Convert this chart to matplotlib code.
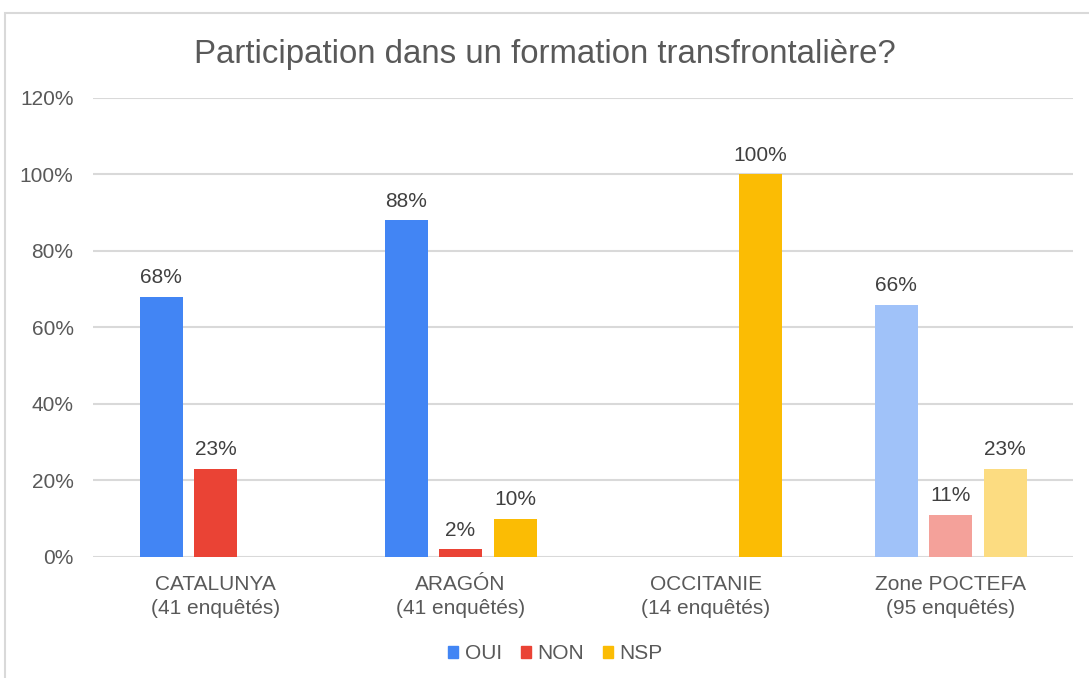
import matplotlib.pyplot as plt
import numpy as np
from matplotlib.patches import Rectangle

plt.rcParams['font.family'] = ['Liberation Sans', 'DejaVu Sans']

regions = ["CATALUNYA\n(41 enquêtés)", "ARAGÓN\n(41 enquêtés)",
           "OCCITANIE\n(14 enquêtés)", "Zone POCTEFA\n(95 enquêtés)"]
series = ["OUI", "NON", "NSP"]
oui = [68, 88, 0, 66]
non = [23, 2, 0, 11]
nsp = [0, 10, 100, 23]

colors = ["#4285F4", "#EA4335", "#FBBC04"]
# the POCTEFA total is drawn in lighter shades
light = ["#A0C2F9", "#F4A19A", "#FCDC81"]

fig = plt.figure(figsize=(10.89, 6.78), dpi=100)
ax = fig.add_axes([0.0854, 0.1785, 0.9, 0.677])

x = np.arange(len(regions))
width = 0.1755
step = 0.2224
grey = "#595959"

for i, (name, vals) in enumerate(zip(series, [oui, non, nsp])):
    cols = [colors[i]] * 3 + [light[i]]
    bars = ax.bar(x + (i - 1) * step, vals, width, color=cols, label=name, zorder=3)
    labels = [f"{v}%" if v > 0 else "" for v in vals]
    ax.bar_label(bars, labels=labels, padding=7, fontsize=15, color="#404040")

ax.set_ylim(0, 120)
ax.set_xlim(-0.5, len(regions) - 0.5)
ax.set_yticks(range(0, 121, 20))
ax.set_yticklabels([f"{v}%" for v in range(0, 121, 20)])
ax.set_xticks(x)
ax.set_xticklabels(regions, linespacing=1.35)
ax.tick_params(axis="both", length=0, labelsize=15, labelcolor=grey)
ax.tick_params(axis="y", pad=14)
ax.tick_params(axis="x", pad=13)
ax.grid(axis="y", color="#d9d9d9", linewidth=1.5, zorder=0)
for s in ax.spines.values():
    s.set_visible(False)

fig.suptitle("Participation dans un formation transfrontalière?",
             fontsize=23.8, color=grey, y=0.943)

handles = [Rectangle((0, 0), 1, 1, color=c) for c in colors]
fig.legend(handles, series, loc="center", bbox_to_anchor=(0.51, 0.036), ncol=3,
           frameon=False, fontsize=15, labelcolor=grey, handlelength=0.5,
           handleheight=0.5, handletextpad=0.3, columnspacing=0.9)

# light frame around the chart
fig.patches.append(Rectangle((5 / 1089, -0.1), 1.2, 1.1 - 13 / 678,
                             transform=fig.transFigure, fill=False,
                             edgecolor="#d9d9d9", linewidth=1.5))

fig.savefig("out.png", dpi=100)
